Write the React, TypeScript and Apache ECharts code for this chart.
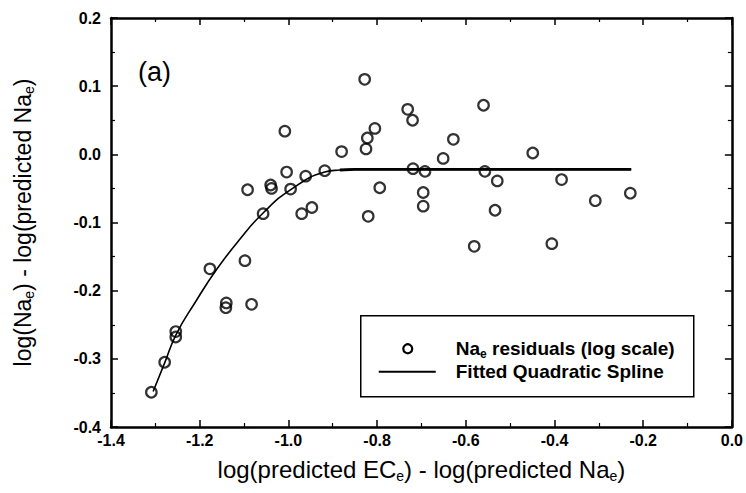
import React, { useEffect, useRef } from "react";
import * as echarts from "echarts";

// Residual points (x: log(pred ECe) - log(pred Nae), y: residual)
const residualX = [
  -1.309, -1.279, -1.254, -1.254, -1.177, -1.14, -1.141, -1.098, -1.083, -1.092,
  -1.057, -1.04, -1.038, -1.008, -1.004, -0.995, -0.97, -0.961, -0.947, -0.918,
  -0.88, -0.828, -0.825, -0.822, -0.805, -0.82, -0.794, -0.731, -0.72, -0.719,
  -0.692, -0.696, -0.696, -0.651, -0.628, -0.581, -0.56, -0.557, -0.529, -0.534,
  -0.449, -0.406, -0.384, -0.308, -0.229,
];
const residualY = [
  -0.349, -0.305, -0.26, -0.268, -0.168, -0.218, -0.225, -0.156, -0.22, -0.052,
  -0.087, -0.045, -0.05, 0.034, -0.026, -0.051, -0.087, -0.032, -0.078, -0.024,
  0.004, 0.11, 0.008, 0.024, 0.038, -0.091, -0.049, 0.066, 0.05, -0.021,
  -0.025, -0.056, -0.076, -0.006, 0.022, -0.135, 0.072, -0.025, -0.039, -0.082,
  0.002, -0.131, -0.037, -0.068, -0.057,
];

// Fitted quadratic spline
const splineX = [-1.305, -1.279, -1.253, -1.21, -1.162, -1.11, -1.057, -0.993, -0.918, -0.884, -0.85, -0.227];
const splineY = [-0.348, -0.306, -0.264, -0.217, -0.169, -0.125, -0.086, -0.051, -0.026, -0.023, -0.022, -0.022];
const plateauStart = 9; // index where the spline becomes flat (drawn heavier in the original)

const xTicks = { min: -1.4, max: 0, interval: 0.2 };
const yTicks = { min: -0.4, max: 0.2, interval: 0.1 };

const legendLabels = ["Na{sub|e} residuals (log scale)", "Fitted Quadratic Spline"];
const panelLabel = "(a)";

const FONT = "'Liberation Sans', Arial, Helvetica, sans-serif";

export default function App() {
  const ref = useRef<HTMLDivElement>(null);

  useEffect(() => {
    if (!ref.current) return;
    const chart = echarts.init(ref.current, null, { renderer: "svg" });

    const axisLine = { show: true, onZero: false, lineStyle: { color: "#000", width: 2.5 } };
    const tick = { show: true, inside: true, length: 7, lineStyle: { color: "#000", width: 1.5 } };
    const minor = { show: true, splitNumber: 2, length: 4, lineStyle: { color: "#000", width: 1.2 } };
    const label = {
      color: "#000",
      fontFamily: FONT,
      fontWeight: "bold" as const,
      fontSize: 16,
      formatter: (v: number) => v.toFixed(1),
    };
    const subRich = {
      sub: { fontSize: 14, fontFamily: FONT, color: "#000", verticalAlign: "bottom" as const, lineHeight: 27 },
    };
    const splineData = splineX.map((x, i) => [x, splineY[i]]);

    chart.setOption({
      animation: false,
      backgroundColor: "#fff",
      grid: { left: 111, right: 14, top: 18, bottom: 66, containLabel: false },
      xAxis: [
        {
          type: "value",
          position: "bottom",
          ...xTicks,
          axisLine,
          axisTick: tick,
          minorTick: minor,
          splitLine: { show: false },
          axisLabel: { ...label, margin: 5 },
          name: "log(predicted EC{sub|e}) - log(predicted Na{sub|e})",
          nameLocation: "middle",
          nameGap: 29,
          nameTextStyle: {
            color: "#000",
            fontFamily: FONT,
            fontSize: 24,
            verticalAlign: "top",
            rich: subRich,
          },
        },
        {
          type: "value",
          position: "top",
          ...xTicks,
          axisLine,
          axisTick: tick,
          minorTick: minor,
          splitLine: { show: false },
          axisLabel: { show: false },
        },
      ],
      yAxis: [
        {
          type: "value",
          position: "left",
          ...yTicks,
          axisLine,
          axisTick: tick,
          minorTick: minor,
          splitLine: { show: false },
          axisLabel: { ...label, margin: 10 },
          name: "log(Na{sub|e}) - log(predicted Na{sub|e})",
          nameLocation: "middle",
          nameRotate: 90,
          nameGap: 75,
          nameTextStyle: {
            color: "#000",
            fontFamily: FONT,
            fontSize: 23,
            rich: subRich,
          },
        },
        {
          type: "value",
          position: "right",
          ...yTicks,
          axisLine,
          axisTick: tick,
          minorTick: minor,
          splitLine: { show: false },
          axisLabel: { show: false },
        },
      ],
      series: [
        {
          name: "Fitted Quadratic Spline",
          type: "line",
          data: splineData,
          smooth: true,
          symbol: "none",
          lineStyle: { color: "#000", width: 1.6 },
          z: 2,
        },
        {
          name: "Fitted Quadratic Spline (flat part)",
          type: "line",
          data: splineData.slice(plateauStart),
          symbol: "none",
          lineStyle: { color: "#000", width: 2.8 },
          z: 2,
        },
        {
          name: "Nae residuals (log scale)",
          type: "scatter",
          data: residualX.map((x, i) => [x, residualY[i]]),
          symbol: "circle",
          symbolSize: 10.5,
          itemStyle: { color: "rgba(0,0,0,0)", borderColor: "#000", borderWidth: 2.2 },
          z: 3,
        },
      ],
      graphic: [
        {
          type: "text",
          left: 138,
          top: 58,
          style: { text: panelLabel, fontFamily: FONT, fontSize: 27, fill: "#000" },
        },
        {
          type: "group",
          left: 360,
          top: 315,
          z: 10,
          children: [
            {
              type: "rect",
              shape: { x: 0, y: 0, width: 333, height: 81 },
              style: { fill: "#fff", stroke: "#000", lineWidth: 1.5 },
            },
            {
              type: "circle",
              shape: { cx: 47, cy: 33, r: 4.5 },
              style: { fill: "#fff", stroke: "#000", lineWidth: 2.2 },
            },
            {
              type: "line",
              shape: { x1: 18, y1: 56, x2: 75, y2: 56 },
              style: { stroke: "#000", lineWidth: 2 },
            },
            {
              type: "text",
              x: 95,
              y: 33,
              style: {
                text: legendLabels[0],
                fontFamily: FONT,
                fontWeight: "bold",
                fontSize: 19,
                fill: "#000",
                verticalAlign: "middle",
                rich: {
                  sub: { fontFamily: FONT, fontWeight: "bold", fontSize: 12, verticalAlign: "bottom", lineHeight: 23 },
                },
              },
            },
            {
              type: "text",
              x: 95,
              y: 56,
              style: {
                text: legendLabels[1],
                fontFamily: FONT,
                fontWeight: "bold",
                fontSize: 19,
                fill: "#000",
                verticalAlign: "middle",
              },
            },
          ],
        },
      ],
    });

    return () => chart.dispose();
  }, []);

  return <div ref={ref} style={{ width: 746, height: 493, position: "absolute", left: 0, top: 0 }} />;
}
